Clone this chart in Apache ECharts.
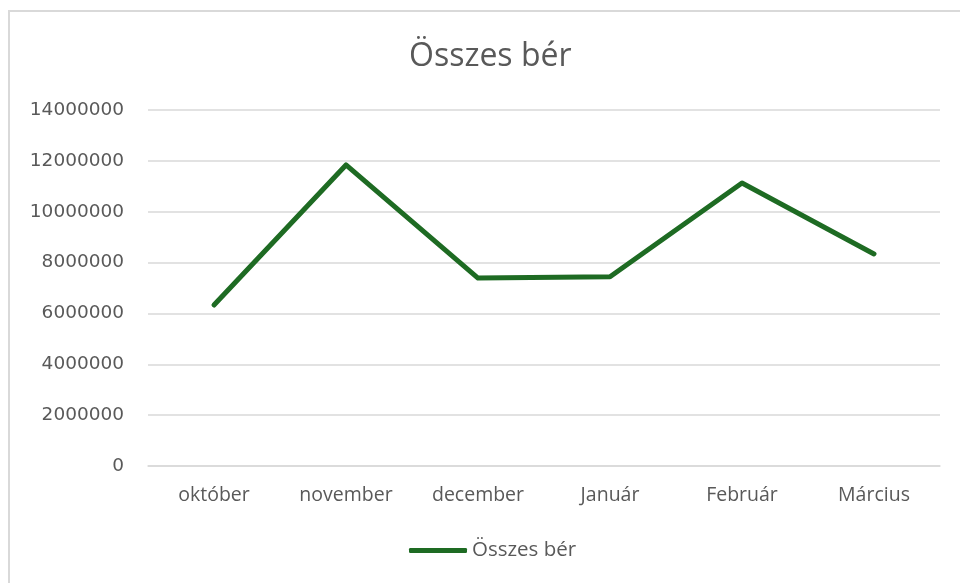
<!DOCTYPE html>
<html>
<head>
<meta charset="utf-8">
<script src="https://cdn.jsdelivr.net/npm/echarts@6/dist/echarts.min.js"></script>
<style>
html,body{margin:0;padding:0;background:#fff;}
#main{width:960px;height:583px;}
</style>
</head>
<body>
<div id="main"></div>
<script>
// hónapok és összes bér
var categories = ['október', 'november', 'december', 'Január', 'Február', 'Március'];
var osszesBer = [6330000, 11840000, 7390000, 7440000, 11130000, 8340000];
var seriesName = 'Összes bér';

var option = {
	backgroundColor: '#fff',
	animation: false,
	graphic: [{
		type: 'rect',
		shape: {x: 9, y: 11, width: 1000, height: 1000},
		style: {fill: 'none', stroke: '#d9d9d9', lineWidth: 2},
		silent: true
	}],
	title: {
		text: 'Összes bér',
		left: 404,
		top: 36,
		textStyle: {fontFamily: 'Open Sans', fontSize: 32, fontWeight: 'normal', color: '#595959'}
	},
	legend: {
		data: [seriesName],
		bottom: 17,
		left: 404,
		itemWidth: 58,
		itemHeight: 5,
		itemGap: 3,
		icon: 'roundRect',
		textStyle: {fontFamily: 'Open Sans', fontSize: 20.5, color: '#595959'}
	},
	grid: {
		left: 148,
		right: 20,
		top: 110,
		bottom: 117
	},
	xAxis: {
		type: 'category',
		data: categories,
		boundaryGap: true,
		axisLine: {show: true, lineStyle: {color: '#d9d9d9', width: 1.5}},
		axisTick: {show: false},
		axisLabel: {fontFamily: 'Open Sans', fontSize: 19.5, color: '#595959', margin: 19}
	},
	yAxis: {
		type: 'value',
		min: 0,
		max: 14000000,
		interval: 2000000,
		axisLine: {show: false},
		axisTick: {show: false},
		splitLine: {lineStyle: {color: '#d9d9d9', width: 1.5}},
		axisLabel: {
			fontFamily: 'DejaVu Sans', fontSize: 18.5, color: '#595959', margin: 24,
			formatter: function(v){ return String(v); }
		}
	},
	series: [{
		name: seriesName,
		type: 'line',
		data: osszesBer,
		symbol: 'none',
		lineStyle: {color: '#1e6b23', width: 5, cap: 'round', join: 'round'},
		itemStyle: {color: '#1e6b23'}
	}]
};

echarts.init(document.getElementById('main')).setOption(option);
</script>
</body>
</html>
